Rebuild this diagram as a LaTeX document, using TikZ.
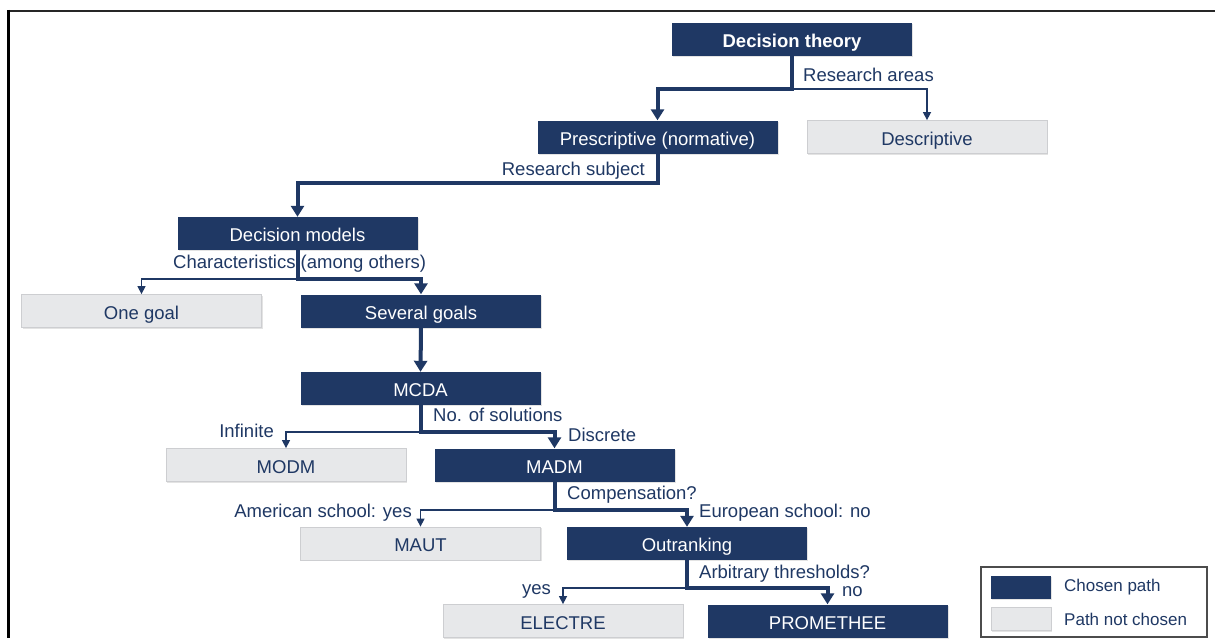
\documentclass[tikz,border=0pt]{standalone}
\usepackage{fontspec}
\setmainfont{Liberation Sans}
\usetikzlibrary{arrows.meta,shadows}
\definecolor{navy}{RGB}{31,56,100}
\definecolor{paleg}{RGB}{231,232,234}
\definecolor{paleedge}{RGB}{205,206,209}
\begin{document}
\begin{tikzpicture}[x=1pt,y=-1pt,
  every node/.style={font=\fontsize{18.5}{22}\selectfont},
  box/.style={minimum width=240pt,minimum height=33pt,inner sep=0pt,
    text height=16pt,text depth=0pt,
    drop shadow={shadow xshift=1.2pt,shadow yshift=-1.4pt,opacity=0.22}},
  chosen/.style={box,fill=navy,text=white},
  notchosen/.style={box,fill=paleg,draw=paleedge,line width=0.8pt,text=navy},
  lbl/.style={text=navy,inner sep=0pt},
  mainpath/.style={draw=navy,line width=4pt,-{Triangle[width=13pt,length=11pt]}},
  sidepath/.style={draw=navy,line width=1.4pt,-{Triangle[width=8pt,length=8pt]}},
  legtext/.style={text=navy,inner sep=0pt,font=\fontsize{17}{20}\selectfont}]
\useasboundingbox (0,0) rectangle (1215,638);
\fill[white] (0,0) rectangle (1215,638);

% outer frame (open at right and bottom)
\draw[line width=2.5pt,black!85] (8,11) -- (1215,11);
\draw[line width=3pt,black] (8,9.75) -- (8,638);

% boxes
\node[chosen,font=\bfseries\fontsize{18.5}{22}\selectfont] (dt) at (792,39.5) {Decision theory};
\node[chosen]    (pre)  at (657.5,137)  {Prescriptive (normative)};
\node[notchosen] (desc) at (927,137)    {Descriptive};
\node[chosen]    (dm)   at (297.5,233.5) {Decision models};
\node[notchosen] (one)  at (141.5,311)  {One goal};
\node[chosen]    (sev)  at (421,311)    {Several goals};
\node[chosen]    (mcda) at (420.5,388.5) {MCDA};
\node[notchosen] (modm) at (286,465)    {MODM};
\node[chosen]    (madm) at (554.5,465)  {MADM};
\node[notchosen] (maut) at (420.5,543.5) {MAUT};
\node[chosen]    (outr) at (687,543.5)  {Outranking};
\node[notchosen] (elec) at (563,621)    {ELECTRE};
\node[chosen]    (prom) at (827.5,621)  {PROMETHEE};

% branch points
\coordinate (j1) at (792,89);
\coordinate (j2) at (657.5,183);
\coordinate (j3) at (297.5,279);
\coordinate (j4) at (420.5,432);
\coordinate (j5) at (554.5,510);
\coordinate (j6) at (687,588);

% connectors: thin branches first, the chosen path on top
\draw[sidepath] (j1) -| (desc.north);
\draw[sidepath] (j3) -| (one.north);
\draw[sidepath] (j4) -| (modm.north);
\draw[sidepath] (j5) -| (maut.north);
\draw[sidepath] (j6) -| (elec.north);

\draw[mainpath] (dt.south) -- (j1) -| (pre.north);
\draw[mainpath] (pre.south) -- (j2) -| (dm.north);
\draw[mainpath] (dm.south) -- (j3) -| (sev.north);
\draw[mainpath] (sev.south) -- (mcda.north);
\draw[mainpath] (mcda.south) -- (j4) -| (madm.north);
\draw[mainpath] (madm.south) -- (j5) -| (outr.north);
\draw[mainpath] (outr.south) -- (j6) -| (prom.north);

% branch labels
\node[lbl,anchor=base west] (l1)  at (803,81)  {Research areas};
\node[lbl,anchor=base east] (l2)  at (645,175) {Research subject};
\node[lbl,anchor=base west] (l3)  at (173,268) {Characteristics (among others)};
\node[lbl,anchor=base west] (l4)  at (433,421) {No. of solutions};
\node[lbl,anchor=base east] (l5)  at (274,437) {Infinite};
\node[lbl,anchor=base west] (l6)  at (568,441) {Discrete};
\node[lbl,anchor=base west] (l7)  at (567,499) {Compensation?};
\node[lbl,anchor=base east] (l8)  at (412,517) {American school: yes};
\node[lbl,anchor=base west] (l9)  at (699,517) {European school: no};
\node[lbl,anchor=base west] (l10) at (699,578) {Arbitrary thresholds?};
\node[lbl,anchor=base east] (l11) at (551,594) {yes};
\node[lbl,anchor=base west] (l12) at (842,596) {no};

% legend
\draw[line width=1.2pt,black!70] (981,567) rectangle (1207,637);
\node[fill=navy,minimum width=60pt,minimum height=23pt,inner sep=0pt,
  drop shadow={shadow xshift=1pt,shadow yshift=-1pt,opacity=0.22}] (legc) at (1021,587) {};
\node[fill=paleg,draw=paleedge,line width=0.8pt,minimum width=60pt,minimum height=23pt,inner sep=0pt,
  drop shadow={shadow xshift=1pt,shadow yshift=-1pt,opacity=0.22}] (legn) at (1021,619) {};
\node[legtext,anchor=west] (legct) at (1064,587) {Chosen path};
\node[legtext,anchor=west] (legnt) at (1064,619) {Path not chosen};
\end{tikzpicture}
\end{document}
